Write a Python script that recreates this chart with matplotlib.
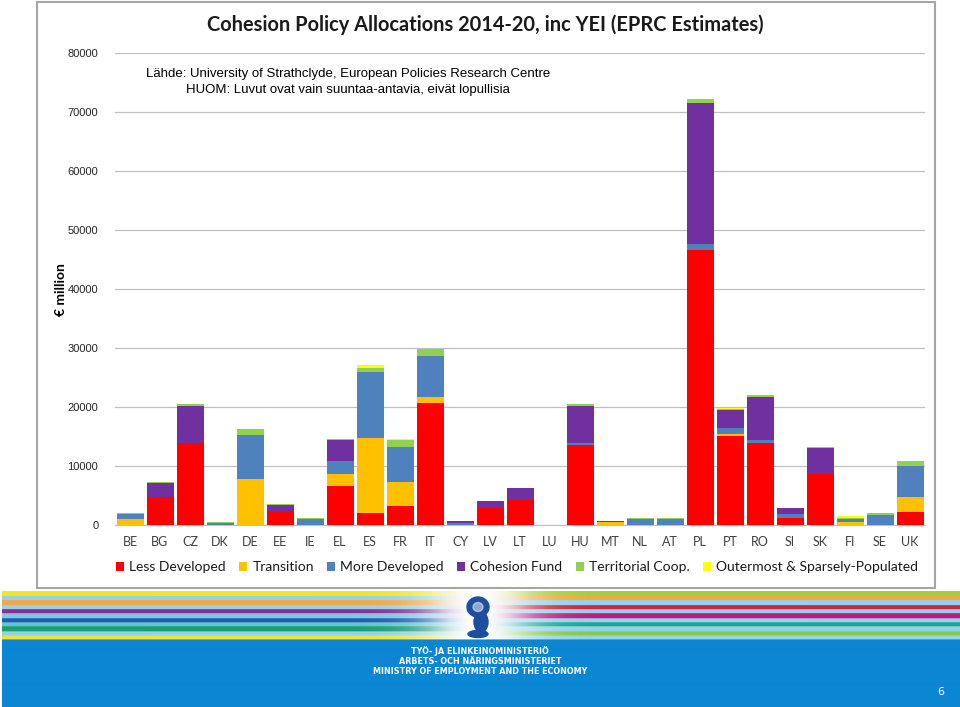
import numpy as np
import matplotlib
matplotlib.use("Agg")
import matplotlib.pyplot as plt
from matplotlib.patches import Rectangle, Patch, Ellipse

countries = ['BE', 'BG', 'CZ', 'DK', 'DE', 'EE', 'IE', 'EL', 'ES', 'FR', 'IT', 'CY', 'LV', 'LT',
             'LU', 'HU', 'MT', 'NL', 'AT', 'PL', 'PT', 'RO', 'SI', 'SK', 'FI', 'SE', 'UK']
less_developed = [0, 4700, 13900, 0, 0, 2200, 0, 6600, 2000, 3270, 20630, 0, 2880, 4240,
                  0, 13560, 0, 0, 0, 46600, 15140, 13850, 1240, 8640, 0, 0, 2150]
transition = [960, 0, 0, 0, 7800, 0, 0, 2050, 12770, 4020, 1010, 0, 0, 0,
              0, 0, 500, 0, 0, 0, 230, 0, 0, 0, 550, 0, 2540]
more_developed = [900, 0, 0, 300, 7450, 0, 950, 2200, 11200, 5980, 7060, 350, 0, 0,
                  40, 340, 0, 960, 960, 1030, 1120, 550, 570, 0, 400, 1700, 5310]
cohesion_fund = [0, 2400, 6300, 0, 0, 1200, 0, 3550, 0, 0, 0, 270, 1240, 2080,
                 0, 6320, 250, 0, 0, 23950, 3050, 7240, 1020, 4460, 0, 0, 0]
territorial = [230, 150, 250, 210, 1000, 100, 170, 200, 600, 1130, 1130, 0, 0, 0,
               20, 230, 0, 280, 220, 570, 120, 340, 0, 150, 280, 280, 900]
outermost = [0, 0, 0, 0, 0, 0, 0, 0, 500, 230, 0, 0, 0, 0,
             0, 0, 0, 0, 0, 0, 120, 0, 0, 0, 230, 0, 0]

series_names = ['Less Developed', 'Transition', 'More Developed', 'Cohesion Fund',
                'Territorial Coop.', 'Outermost & Sparsely-Populated']
series_values = [less_developed, transition, more_developed, cohesion_fund, territorial, outermost]
series_colors = ['#ff0000', '#ffc000', '#4f81bd', '#7030a0', '#92d050', '#ffff00']

title = 'Cohesion Policy Allocations 2014-20, inc YEI (EPRC Estimates)'
note1 = 'Lähde: University of Strathclyde, European Policies Research Centre'
note2 = 'HUOM: Luvut ovat vain suuntaa-antavia, eivät lopullisia'
ylabel = '€ million'
ministry = ['TYÖ- JA ELINKEINOMINISTERIÖ', 'ARBETS- OCH NÄRINGSMINISTERIET',
            'MINISTRY OF EMPLOYMENT AND THE ECONOMY']

W, H = 960, 707
fig = plt.figure(figsize=(W / 100, H / 100), dpi=100)
fig.patch.set_facecolor('white')

def fx(x):
    return x / W

def fy(y):
    return 1 - y / H

# outer frame of chart
fig.patches.append(Rectangle((fx(37), fy(588)), fx(935) - fx(37), fy(2) - fy(588),
                             transform=fig.transFigure, fill=False, ec='#a6a6a6', lw=1.5))

ax = fig.add_axes([fx(115), fy(525), fx(925) - fx(115), fy(53) - fy(525)])
x = np.arange(len(countries))
bottom = np.zeros(len(countries))
for name, vals, col in zip(series_names, series_values, series_colors):
    v = np.array(vals, dtype=float)
    ax.bar(x, v, bottom=bottom, width=0.9, color=col, label=name, zorder=3)
    bottom += v

ax.set_xlim(-0.5, len(countries) - 0.5)
ax.set_ylim(0, 80000)
ax.set_yticks(np.arange(0, 80001, 10000))
ax.set_yticklabels([str(t) for t in range(0, 80001, 10000)], family='Liberation Sans',
                   fontsize=8, color='#262626')
ax.set_xticks(x)
ax.set_xticklabels(countries, family='Lato', fontsize=9, color='#404040')
ax.tick_params(axis='both', length=0)
ax.tick_params(axis='y', pad=12)
ax.tick_params(axis='x', pad=8)
ax.grid(axis='y', color='#c0c0c0', lw=0.9, zorder=0)
for s in ['top', 'right', 'left']:
    ax.spines[s].set_visible(False)
ax.spines['bottom'].set_color('#bfbfbf')
ax.set_facecolor('none')

fig.text(fx(485), fy(25), title, family='Lato', fontweight='bold', fontsize=14.4,
         ha='center', va='center', color='#1a1a1a')
fig.text(fx(348), fy(74), note1, family='Liberation Sans', fontsize=9.5,
         ha='center', va='center', color='black')
fig.text(fx(348), fy(90), note2, family='Liberation Sans', fontsize=9.5,
         ha='center', va='center', color='black')
fig.text(fx(61), fy(290), ylabel, family='Lato', fontweight='bold', fontsize=10,
         rotation=90, ha='center', va='center', color='black')

handles = [Patch(facecolor=c, edgecolor='none') for c in series_colors]
fig.legend(handles, series_names, loc='center', bbox_to_anchor=(fx(517), fy(567)), ncol=6,
           frameon=False, prop={'family': 'Lato', 'size': 10}, handlelength=0.6,
           handleheight=0.6, handletextpad=0.35, columnspacing=0.95, labelcolor='#1a1a1a')

# bottom banner
bax = fig.add_axes([0, 0, 1, fy(590)])
bax.set_xlim(0, W)
bax.set_ylim(H, 590)
bax.axis('off')

def hexrgb(h):
    h = h.lstrip('#')
    return np.array([int(h[i:i + 2], 16) / 255 for i in (0, 2, 4)])

left_cols = ['#f2e32b', '#93d2ea', '#f3a745', '#93d2ea', '#8b2f8f', '#7cc7ec',
             '#1f5fa8', '#63c4d6', '#1aa06b', '#93d2ea', '#f0e530']
right_cols = ['#a7ce3a', '#f3a745', '#93d2ea', '#d4213d', '#93d2ea', '#c0197f',
              '#93d2ea', '#1aa59a', '#93d2ea', '#8cc63f', '#93d2ea']
blue = hexrgb('#0b86d3')
top, stripe_end = 592, 640
img = np.ones((H - 590, W, 3))
xs = np.arange(W)
glow = np.exp(-((xs - 478) / 55.0) ** 2)
mix = np.clip((xs - 430) / 100.0, 0, 1)
nrows = len(left_cols)
for yy in range(590, H):
    r = yy - 590
    if yy < top:
        img[r] = 1.0
    elif yy < stripe_end:
        k = min(int((yy - top) / (stripe_end - top) * nrows), nrows - 1)
        lc = hexrgb(left_cols[k])
        rc = hexrgb(right_cols[k])
        base = lc[None, :] * (1 - mix[:, None]) + rc[None, :] * mix[:, None]
        img[r] = base * (1 - glow[:, None]) + glow[:, None]
    else:
        img[r] = blue
img[:, :2] = 1.0
bax.imshow(img, extent=[0, W, H, 590], aspect='auto', interpolation='bilinear', zorder=1)

# simple emblem in the centre of the stripes
emblem = '#1d4f9e'
bax.add_patch(Ellipse((478, 607), 22, 20, color=emblem, zorder=2))
bax.add_patch(Ellipse((481, 622), 14, 20, color=emblem, zorder=2))
bax.add_patch(Ellipse((478, 634), 20, 7, color=emblem, zorder=2))
bax.add_patch(Ellipse((478, 607), 10, 9, color='white', alpha=0.5, zorder=3))

for i, line in enumerate(ministry):
    bax.text(480, 651 + i * 10.5, line, family='DejaVu Sans', fontweight='bold',
             fontsize=5.8, color='white', ha='center', va='center')
bax.text(941, 692, '6', family='DejaVu Sans', fontsize=8, color='white', ha='center', va='center')

fig.savefig('out.png', dpi=100)
